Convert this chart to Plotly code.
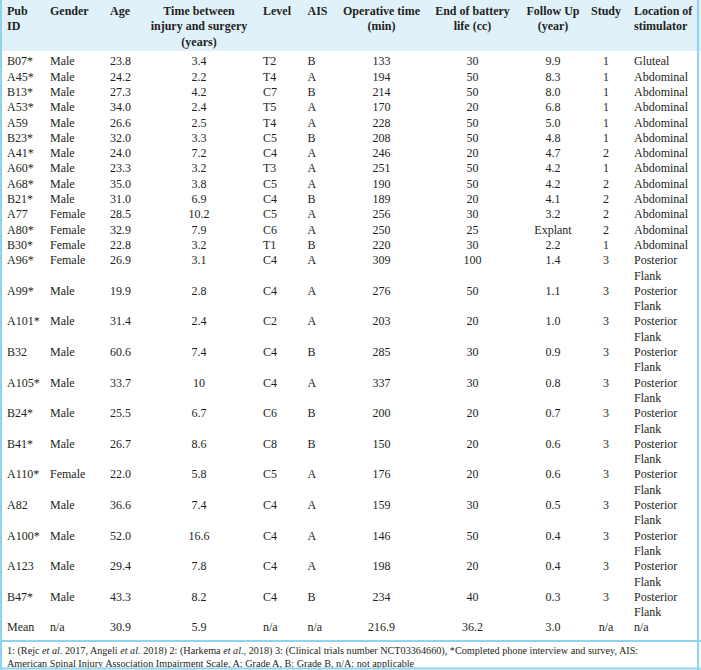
import textwrap
import plotly.graph_objects as go

# ---------------- data ----------------
pub_id = ["B07*", "A45*", "B13*", "A53*", "A59", "B23*", "A41*", "A60*", "A68*", "B21*",
          "A77", "A80*", "B30*", "A96*", "A99*", "A101*", "B32", "A105*", "B24*", "B41*",
          "A110*", "A82", "A100*", "A123", "B47*"]
gender = ["Male", "Male", "Male", "Male", "Male", "Male", "Male", "Male", "Male", "Male",
          "Female", "Female", "Female", "Female", "Male", "Male", "Male", "Male", "Male", "Male",
          "Female", "Male", "Male", "Male", "Male"]
age = ["23.8", "24.2", "27.3", "34.0", "26.6", "32.0", "24.0", "23.3", "35.0", "31.0",
       "28.5", "32.9", "22.8", "26.9", "19.9", "31.4", "60.6", "33.7", "25.5", "26.7",
       "22.0", "36.6", "52.0", "29.4", "43.3"]
time_between = ["3.4", "2.2", "4.2", "2.4", "2.5", "3.3", "7.2", "3.2", "3.8", "6.9",
                "10.2", "7.9", "3.2", "3.1", "2.8", "2.4", "7.4", "10", "6.7", "8.6",
                "5.8", "7.4", "16.6", "7.8", "8.2"]
level = ["T2", "T4", "C7", "T5", "T4", "C5", "C4", "T3", "C5", "C4",
         "C5", "C6", "T1", "C4", "C4", "C2", "C4", "C4", "C6", "C8",
         "C5", "C4", "C4", "C4", "C4"]
ais = ["B", "A", "B", "A", "A", "B", "A", "A", "A", "B",
       "A", "A", "B", "A", "A", "A", "B", "A", "B", "B",
       "A", "A", "A", "A", "B"]
operative_time = ["133", "194", "214", "170", "228", "208", "246", "251", "190", "189",
                  "256", "250", "220", "309", "276", "203", "285", "337", "200", "150",
                  "176", "159", "146", "198", "234"]
battery_life = ["30", "50", "50", "20", "50", "50", "20", "50", "50", "20",
                "30", "25", "30", "100", "50", "20", "30", "30", "20", "20",
                "20", "30", "50", "20", "40"]
follow_up = ["9.9", "8.3", "8.0", "6.8", "5.0", "4.8", "4.7", "4.2", "4.2", "4.1",
             "3.2", "Explant", "2.2", "1.4", "1.1", "1.0", "0.9", "0.8", "0.7", "0.6",
             "0.6", "0.5", "0.4", "0.4", "0.3"]
study = ["1", "1", "1", "1", "1", "1", "2", "1", "2", "2",
         "2", "2", "1", "3", "3", "3", "3", "3", "3", "3",
         "3", "3", "3", "3", "3"]
location = ["Gluteal", "Abdominal", "Abdominal", "Abdominal", "Abdominal", "Abdominal",
            "Abdominal", "Abdominal", "Abdominal", "Abdominal", "Abdominal", "Abdominal",
            "Abdominal", "Posterior Flank", "Posterior Flank", "Posterior Flank",
            "Posterior Flank", "Posterior Flank", "Posterior Flank", "Posterior Flank",
            "Posterior Flank", "Posterior Flank", "Posterior Flank", "Posterior Flank",
            "Posterior Flank"]
mean_row = ["Mean", "n/a", "30.9", "5.9", "n/a", "n/a", "216.9", "36.2", "3.0", "n/a", "n/a"]

headers = ["Pub<br>ID", "Gender", "Age", "Time between<br>injury and surgery<br>(years)",
           "Level", "AIS", "Operative time<br>(min)", "End of battery<br>life (cc)",
           "Follow Up<br>(year)", "Study", "Location of<br>stimulator"]

footnote_lines = [
    "1: (Rejc <i>et al.</i> 2017, Angeli <i>et al.</i> 2018) 2: (Harkema <i>et al.</i>, 2018) "
    "3: (Clinical trials number NCT03364660), *Completed phone interview and survey, AIS:",
    "American Spinal Injury Association Impairment Scale, A: Grade A, B: Grade B, n/A: not applicable",
]

# ---------------- layout / style ----------------
W, H = 701, 670
FONT = "Liberation Serif"
FS = 12
FN_FS = 10.2
TXT = "#231f20"
HEADER_BG = "#e1f1fa"
BORDER = "#8fd3f2"

col_x = [7, 50, 110, 199, 263, 307.5, 381.5, 472.5, 553, 606, 634]
col_align = ["left", "left", "left", "center", "left", "left",
             "center", "center", "center", "center", "left"]
wrap_width = [None] * 10 + [10]

header_y0 = 11.6
header_lh = 15.5
body_y0 = 62.3
body_lh = 15.3
header_bottom = 51

pos = {"left": "middle right", "center": "middle center"}

columns = [pub_id, gender, age, time_between, level, ais,
           operative_time, battery_life, follow_up, study, location]
rows = [list(r) for r in zip(*columns)] + [mean_row]


def cell_lines(text, ci):
    w = wrap_width[ci]
    if w and len(text) > w:
        return textwrap.wrap(text, w)
    return [text]


# header points
hx, hy, ht, hp = [], [], [], []
for ci, h in enumerate(headers):
    for li, line in enumerate(h.split("<br>")):
        hx.append(col_x[ci])
        hy.append(header_y0 + li * header_lh)
        ht.append("<b>" + line + "</b>")
        hp.append(pos[col_align[ci]])

# body points
bx, by, bt, bp = [], [], [], []
y = body_y0
for row in rows:
    nmax = 1
    for ci, val in enumerate(row):
        lines = cell_lines(val, ci)
        nmax = max(nmax, len(lines))
        for li, line in enumerate(lines):
            bx.append(col_x[ci])
            by.append(y + li * body_lh)
            bt.append(line)
            bp.append(pos[col_align[ci]])
    y += nmax * body_lh
last_row_y = y - body_lh

sep_y = last_row_y + 12.5
fn_y0 = sep_y + 10.8
fn_lh = 12.6

fig = go.Figure()
fig.add_trace(go.Scatter(x=hx, y=hy, text=ht, mode="text", textposition=hp,
                         textfont=dict(family=FONT, size=FS, color=TXT),
                         hoverinfo="skip", showlegend=False))
fig.add_trace(go.Scatter(x=bx, y=by, text=bt, mode="text", textposition=bp,
                         textfont=dict(family=FONT, size=FS, color=TXT),
                         hoverinfo="skip", showlegend=False))
fig.add_trace(go.Scatter(x=[7] * len(footnote_lines),
                         y=[fn_y0 + i * fn_lh for i in range(len(footnote_lines))],
                         text=footnote_lines, mode="text", textposition="middle right",
                         textfont=dict(family=FONT, size=FN_FS, color=TXT),
                         hoverinfo="skip", showlegend=False))

shapes = [
    dict(type="rect", xref="x", yref="y", x0=0, x1=W, y0=0, y1=header_bottom,
         fillcolor=HEADER_BG, line=dict(width=0), layer="below"),
    dict(type="line", xref="x", yref="y", x0=1, x1=1, y0=0, y1=H, line=dict(color=BORDER, width=2)),
    dict(type="line", xref="x", yref="y", x0=698, x1=698, y0=0, y1=H, line=dict(color=BORDER, width=2)),
    dict(type="line", xref="x", yref="y", x0=0, x1=W, y0=H - 1.5, y1=H - 1.5, line=dict(color=BORDER, width=2)),
    dict(type="line", xref="x", yref="y", x0=0, x1=W, y0=sep_y, y1=sep_y, line=dict(color=BORDER, width=2)),
]

fig.update_layout(
    width=W, height=H,
    margin=dict(l=0, r=0, t=0, b=0),
    paper_bgcolor="white", plot_bgcolor="white",
    xaxis=dict(range=[0, W], visible=False, fixedrange=True),
    yaxis=dict(range=[H, 0], visible=False, fixedrange=True),
    shapes=shapes,
    showlegend=False,
)

fig.write_html(
    "out.html",
    config={"displayModeBar": False},
    post_script="document.body.style.margin='0';document.body.style.padding='0';"
                "document.body.style.overflow='hidden';",
)
